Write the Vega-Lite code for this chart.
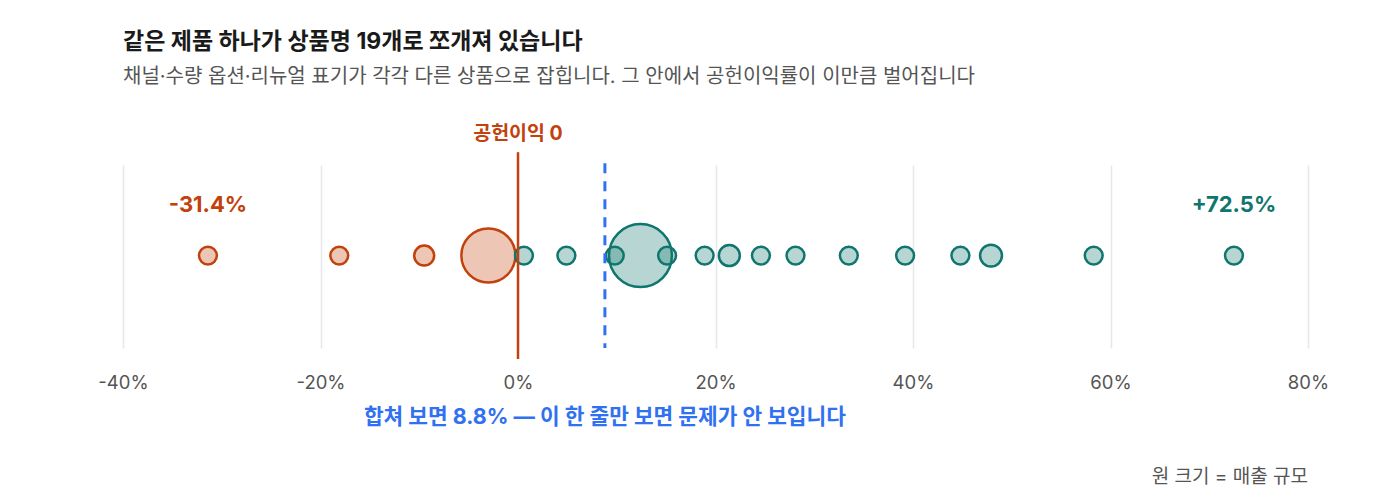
{
  "$schema": "https://vega.github.io/schema/vega-lite/v6.json",
  "width": 1185,
  "height": 183,
  "autosize": "none",
  "padding": {"left": 123, "top": 165, "right": 92, "bottom": 156},
  "config": {
    "font": "Inter, Noto Sans CJK KR, sans-serif",
    "view": {"stroke": null}
  },
  "title": {
    "text": "같은 제품 하나가 상품명 19개로 쪼개져 있습니다",
    "subtitle": "채널·수량 옵션·리뉴얼 표기가 각각 다른 상품으로 잡힙니다. 그 안에서 공헌이익률이 이만큼 벌어집니다",
    "anchor": "start",
    "frame": "group",
    "fontSize": 23,
    "fontWeight": "bold",
    "color": "#1a1a1a",
    "subtitleFontSize": 20,
    "subtitleColor": "#555555",
    "subtitlePadding": 13,
    "offset": 37
  },
  "data": {
    "values": [
      {"상품": "P08", "공헌이익률": 12.4, "매출": 99},
      {"상품": "P04", "공헌이익률": -3.0, "매출": 73},
      {"상품": "P01", "공헌이익률": -31.4, "매출": 8},
      {"상품": "P02", "공헌이익률": -18.1, "매출": 8},
      {"상품": "P03", "공헌이익률": -9.5, "매출": 10},
      {"상품": "P05", "공헌이익률": 0.6, "매출": 8},
      {"상품": "P06", "공헌이익률": 4.9, "매출": 8},
      {"상품": "P07", "공헌이익률": 9.8, "매출": 8},
      {"상품": "P09", "공헌이익률": 15.1, "매출": 8},
      {"상품": "P10", "공헌이익률": 18.9, "매출": 8},
      {"상품": "P11", "공헌이익률": 21.4, "매출": 11},
      {"상품": "P12", "공헌이익률": 24.6, "매출": 8},
      {"상품": "P13", "공헌이익률": 28.1, "매출": 8},
      {"상품": "P14", "공헌이익률": 33.5, "매출": 8},
      {"상품": "P15", "공헌이익률": 39.2, "매출": 8},
      {"상품": "P16", "공헌이익률": 44.8, "매출": 8},
      {"상품": "P17", "공헌이익률": 47.9, "매출": 12},
      {"상품": "P18", "공헌이익률": 58.3, "매출": 8},
      {"상품": "P19", "공헌이익률": 72.5, "매출": 8}
    ]
  },
  "layer": [
    {
      "mark": {"type": "point", "shape": "circle", "filled": false, "strokeWidth": 2.5, "fillOpacity": 0.3, "opacity": 1},
      "encoding": {
        "x": {
          "field": "공헌이익률",
          "type": "quantitative",
          "scale": {"domain": [-40, 80], "nice": false, "zero": false},
          "axis": {
            "title": null,
            "values": [-40, -20, 0, 20, 40, 60, 80],
            "labelExpr": "datum.value + '%'",
            "labelFlush": false,
            "labelBound": false,
            "ticks": false,
            "domain": false,
            "grid": true,
            "gridColor": "#e5e7eb",
            "gridWidth": 1.5,
            "labelFontSize": 18.5,
            "labelColor": "#555555",
            "labelPadding": 25
          }
        },
        "y": {"datum": 0.505, "type": "quantitative", "scale": {"domain": [0, 1], "nice": false, "zero": false}, "axis": null},
        "size": {"field": "매출", "type": "quantitative", "scale": {"domain": [0, 100], "range": [0, 4000]}, "legend": null},
        "stroke": {
          "condition": {"test": "datum['공헌이익률'] < 0", "value": "#c2410c"},
          "value": "#0f766e"
        },
        "fill": {
          "condition": {"test": "datum['공헌이익률'] < 0", "value": "#c2410c"},
          "value": "#0f766e"
        }
      }
    },
    {
      "data": {"values": [{"기준": 0}]},
      "mark": {"type": "rule", "color": "#c2410c", "strokeWidth": 2.5},
      "encoding": {
        "x": {"field": "기준", "type": "quantitative"},
        "y": {"datum": 1.07},
        "y2": {"datum": -0.06}
      }
    },
    {
      "data": {"values": [{"합산": 8.8}]},
      "mark": {"type": "rule", "color": "#3071f2", "strokeWidth": 3, "strokeDash": [10, 8]},
      "encoding": {
        "x": {"field": "합산", "type": "quantitative"},
        "y": {"datum": 1.01},
        "y2": {"datum": 0}
      }
    },
    {
      "data": {"values": [{"x": 0, "label": "공헌이익 0"}]},
      "mark": {"type": "text", "color": "#c2410c", "fontSize": 19.5, "fontWeight": "bold"},
      "encoding": {
        "x": {"field": "x", "type": "quantitative"},
        "y": {"datum": 1.17},
        "text": {"field": "label"}
      }
    },
    {
      "data": {"values": [{"x": -31.4, "label": "-31.4%"}]},
      "mark": {"type": "text", "color": "#c2410c", "fontSize": 22, "fontWeight": "bold"},
      "encoding": {
        "x": {"field": "x", "type": "quantitative"},
        "y": {"datum": 0.78},
        "text": {"field": "label"}
      }
    },
    {
      "data": {"values": [{"x": 72.5, "label": "+72.5%"}]},
      "mark": {"type": "text", "color": "#0f766e", "fontSize": 22, "fontWeight": "bold"},
      "encoding": {
        "x": {"field": "x", "type": "quantitative"},
        "y": {"datum": 0.78},
        "text": {"field": "label"}
      }
    },
    {
      "data": {"values": [{"x": 8.8, "label": "합쳐 보면 8.8% — 이 한 줄만 보면 문제가 안 보입니다"}]},
      "mark": {"type": "text", "color": "#3071f2", "fontSize": 21.4, "fontWeight": "bold"},
      "encoding": {
        "x": {"field": "x", "type": "quantitative"},
        "y": {"datum": -0.38},
        "text": {"field": "label"}
      }
    },
    {
      "data": {"values": [{"x": 80, "label": "원 크기 = 매출 규모"}]},
      "mark": {"type": "text", "color": "#555555", "fontSize": 19, "align": "right"},
      "encoding": {
        "x": {"field": "x", "type": "quantitative"},
        "y": {"datum": -0.705},
        "text": {"field": "label"}
      }
    }
  ]
}
